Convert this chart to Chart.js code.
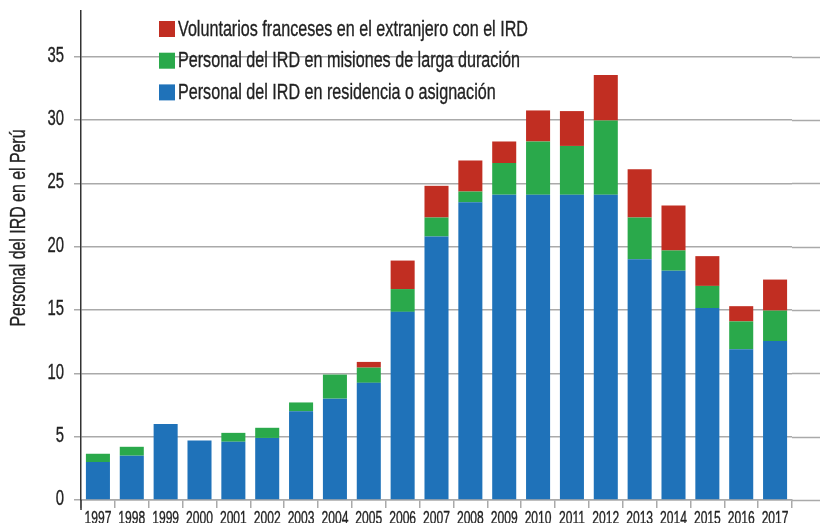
<!DOCTYPE html>
<html>
<head>
<meta charset="utf-8">
<script src="https://cdn.jsdelivr.net/npm/chart.js@4.4.1/dist/chart.umd.min.js"></script>
<style>
    html, body { margin: 0; padding: 0; background: #fff; }
    #wrap { width: 820px; height: 523px; }
</style>
</head>
<body>
<div id="wrap"><canvas id="irdChart"></canvas></div>
<script>
// years shown on the x axis
const years = ['1997', '1998', '1999', '2000', '2001', '2002', '2003', '2004', '2005', '2006', '2007',
    '2008', '2009', '2010', '2011', '2012', '2013', '2014', '2015', '2016', '2017'];

// staff in residence / assignment (blue)
const residencia = [3, 3.5, 6, 4.7, 4.6, 4.9, 7, 8, 9.25, 14.85, 20.8,
    23.5, 24.1, 24.1, 24.1, 24.1, 19, 18.1, 15.15, 11.9, 12.55];
// long duration missions (green)
const misiones = [0.65, 0.7, 0, 0, 0.7, 0.8, 0.7, 1.9, 1.2, 1.8, 1.5,
    0.85, 2.5, 4.2, 3.85, 5.85, 3.3, 1.6, 1.75, 2.2, 2.4];
// french volunteers abroad (red)
const voluntarios = [0, 0, 0, 0, 0, 0, 0, 0, 0.45, 2.25, 2.5,
    2.45, 1.7, 2.45, 2.75, 3.6, 3.8, 3.55, 2.35, 1.2, 2.45];

const yTicks = [0, 5, 10, 15, 20, 25, 30, 35];

const FONT = '"Liberation Sans", Arial, sans-serif';
const TEXT = '#222';

// no condensed face is installed, so squeeze the text horizontally
function condensedText(ctx, text, x, y, sx) {
    ctx.save();
    ctx.translate(x, y);
    ctx.scale(sx, 1);
    ctx.fillText(text, 0, 0);
    ctx.strokeText(text, 0, 0);
    ctx.restore();
}

// tick labels, legend and axis title
const condensedLabels = {
    id: 'condensedLabels',
    afterDraw(chart) {
        const ctx = chart.ctx;
        const xs = chart.scales.x;
        const ys = chart.scales.y;
        ctx.save();
        ctx.fillStyle = TEXT;
        ctx.strokeStyle = TEXT;
        ctx.lineWidth = 0.35;

        // x tick labels
        ctx.font = '17.5px ' + FONT;
        ctx.textAlign = 'center';
        ctx.textBaseline = 'top';
        xs.ticks.forEach((t, i) => {
            condensedText(ctx, xs.getLabelForValue(t.value), xs.getPixelForTick(i), 510, 0.69);
        });

        // y tick labels
        ctx.font = '22.5px ' + FONT;
        ctx.textAlign = 'right';
        ctx.textBaseline = 'middle';
        ys.ticks.forEach(t => {
            condensedText(ctx, String(t.value), 64, ys.getPixelForValue(t.value) - 1, 0.66);
        });

        // legend inside the plot, top to bottom = red, green, blue
        const items = chart.data.datasets.slice().reverse();
        ctx.font = '22.5px ' + FONT;
        ctx.textAlign = 'left';
        const legendScale = 350 / ctx.measureText(items[0].label).width;
        items.forEach((ds, i) => {
            const top = 21 + i * 31.7;
            ctx.fillStyle = ds.backgroundColor;
            ctx.fillRect(159, top, 16, 16);
            ctx.fillStyle = TEXT;
            condensedText(ctx, ds.label, 178, top + 8.5, legendScale);
        });

        // axis title
        const title = 'Personal del IRD en el Perú';
        ctx.font = '21.5px ' + FONT;
        ctx.textAlign = 'center';
        const titleScale = 197 / ctx.measureText(title).width;
        ctx.translate(19, 228);
        ctx.rotate(-Math.PI / 2);
        condensedText(ctx, title, 0, 0, titleScale);
        ctx.restore();
    }
};

// gridlines run past the last category to the edge of the picture
const extendGrid = {
    id: 'extendGrid',
    beforeDatasetsDraw(chart) {
        const ctx = chart.ctx;
        const y = chart.scales.y;
        const area = chart.chartArea;
        ctx.save();
        ctx.strokeStyle = '#aaaaaa';
        ctx.lineWidth = 1.5;
        yTicks.forEach(v => {
            const py = Math.round(y.getPixelForValue(v)) + 0.5;
            ctx.beginPath();
            ctx.moveTo(area.right, py);
            ctx.lineTo(chart.width, py);
            ctx.stroke();
        });
        ctx.restore();
    },
    afterDraw(chart) {
        const ctx = chart.ctx;
        const area = chart.chartArea;
        ctx.save();
        ctx.strokeStyle = '#333';
        ctx.lineWidth = 1.5;
        ctx.beginPath();
        ctx.moveTo(area.left, area.bottom);
        ctx.lineTo(area.left, area.bottom + 10);
        ctx.stroke();
        ctx.restore();
    }
};

const ctx = document.getElementById('irdChart').getContext('2d');
new Chart(ctx, {
    type: 'bar',
    data: {
        labels: years,
        datasets: [{
            label: 'Personal del IRD en residencia o asignación',
            data: residencia,
            backgroundColor: '#1f72b9'
        }, {
            label: 'Personal del IRD en misiones de larga duración',
            data: misiones,
            backgroundColor: '#2aa94b'
        }, {
            label: 'Voluntarios franceses en el extranjero con el IRD',
            data: voluntarios,
            backgroundColor: '#c12e22'
        }]
    },
    options: {
        responsive: true,
        maintainAspectRatio: false,
        animation: false,
        layout: {
            padding: { top: 11, right: 28, left: 0, bottom: 0 }
        },
        datasets: {
            bar: {
                barPercentage: 0.71,
                categoryPercentage: 1
            }
        },
        plugins: {
            legend: { display: false },
            tooltip: { enabled: false }
        },
        scales: {
            x: {
                stacked: true,
                afterFit: s => { s.height = 23; },
                border: { display: true, color: '#aaaaaa', width: 1.5 },
                grid: {
                    display: true,
                    drawOnChartArea: false,
                    offset: true,
                    color: '#aaaaaa',
                    lineWidth: 1.5,
                    tickLength: 8
                },
                ticks: {
                    display: false,
                    autoSkip: false
                }
            },
            y: {
                stacked: true,
                min: 0,
                max: 38.6,
                afterFit: s => { s.width = 81; },
                afterBuildTicks: s => { s.ticks = yTicks.map(v => ({ value: v })); },
                border: { display: true, color: '#333', width: 1.5 },
                grid: {
                    color: '#aaaaaa',
                    lineWidth: 1.5,
                    tickLength: 7
                },
                ticks: {
                    display: false
                }
            }
        }
    },
    plugins: [condensedLabels, extendGrid]
});
</script>
</body>
</html>
